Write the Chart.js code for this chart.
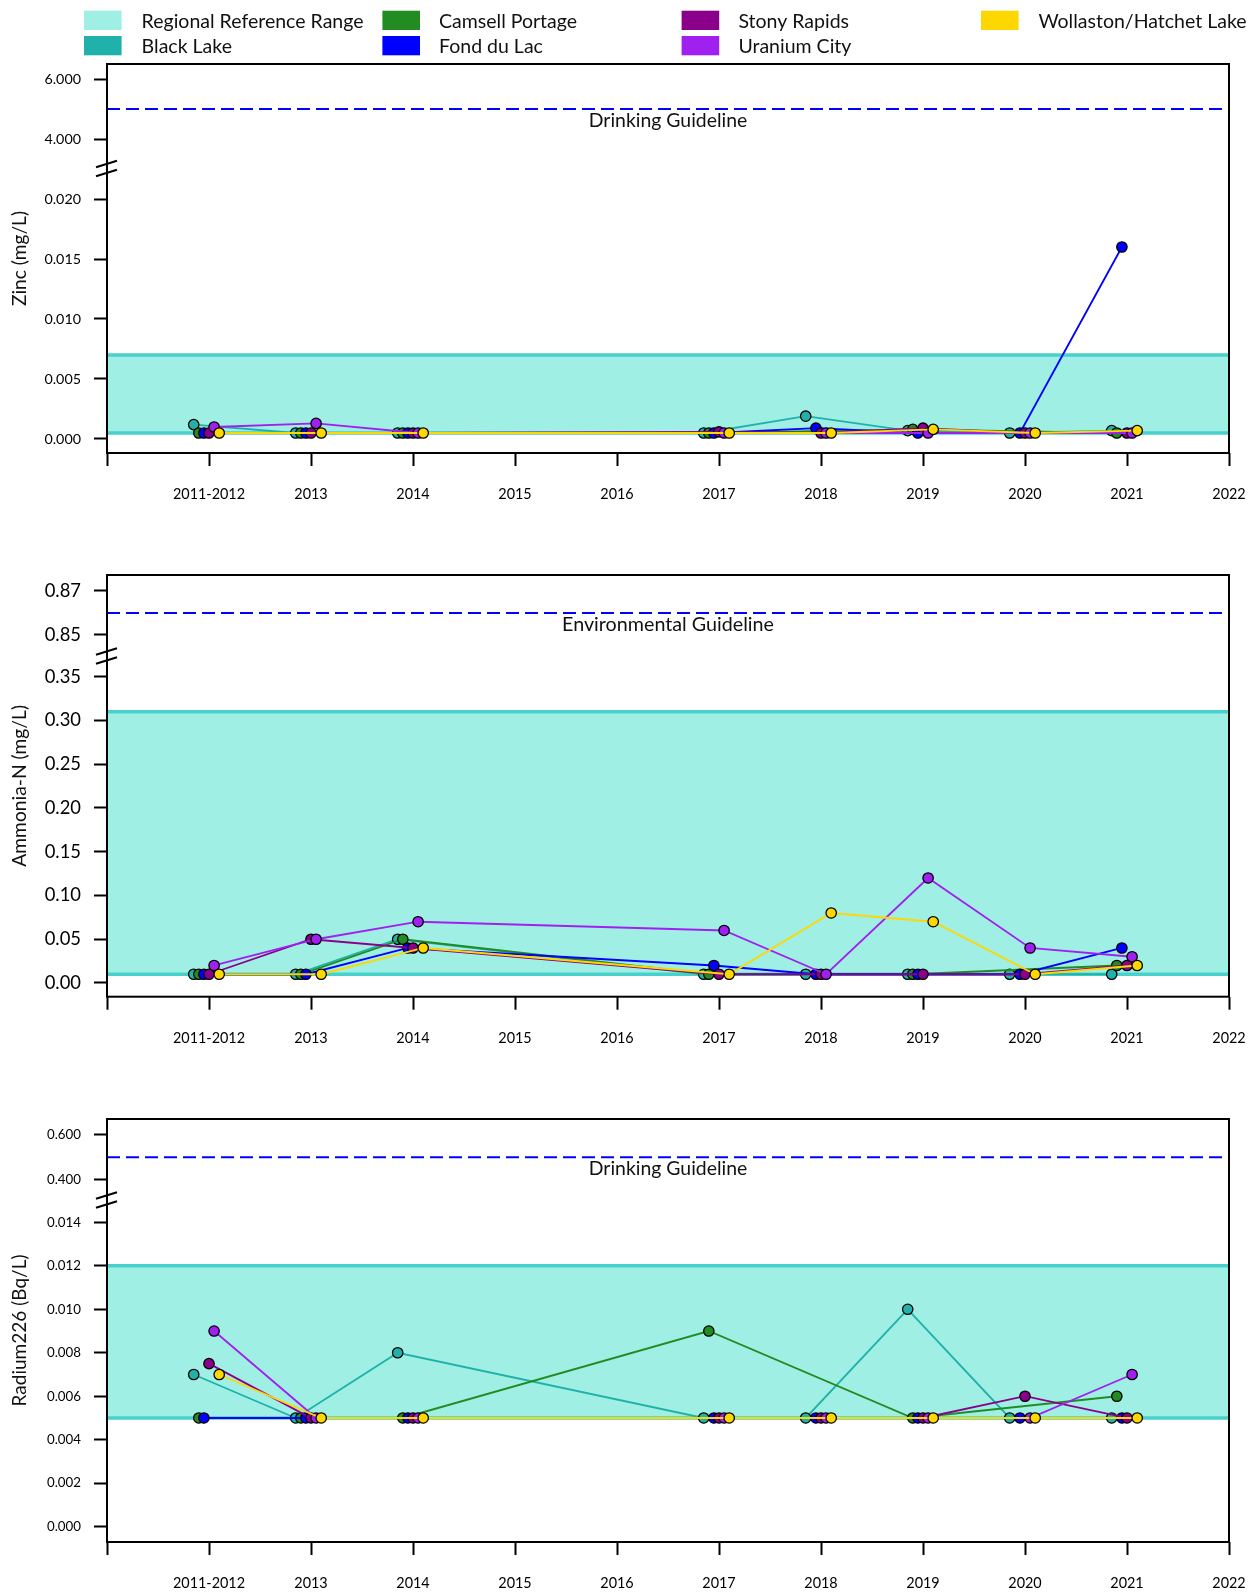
<!DOCTYPE html>
<html>
<head>
<meta charset="utf-8">
<script src="https://cdn.jsdelivr.net/npm/chart.js@4.4.1/dist/chart.umd.min.js"></script>
<style>
  html, body { margin: 0; padding: 0; background: #ffffff; }
  #wrap { position: relative; width: 1254px; height: 1594px; overflow: hidden; }
  canvas { position: absolute; left: 0; }
</style>
</head>
<body>
<div id="wrap">
  <canvas id="c1" width="1254" height="540" style="top:0px"></canvas>
  <canvas id="c2" width="1254" height="530" style="top:540px"></canvas>
  <canvas id="c3" width="1254" height="524" style="top:1070px"></canvas>
</div>
<script>
// ---------------- DATA ----------------
const xTickLabels = ['', '2011-2012', '2013', '2014', '2015', '2016', '2017', '2018', '2019', '2020', '2021', '2022'];
const sampleYears = ['2011-2012', '2013', '2014', '2017', '2018', '2019', '2020', '2021'];
const siteNames = ['Black Lake', 'Camsell Portage', 'Fond du Lac', 'Stony Rapids', 'Uranium City', 'Wollaston/Hatchet Lake'];
const siteColors = ['#20B2AA', '#228B22', '#0000FF', '#8B008B', '#A020F0', '#FFD700'];
const referenceLabel = 'Regional Reference Range';
const referenceFill = '#A0EFE5';
const referenceLine = '#48D1CC';

// Zinc (mg/L)
const zincBlackLake = [0.0012, 0.0005, 0.0005, 0.0005, 0.0019, 0.0007, 0.0005, 0.0007];
const zincCamsell   = [0.0005, 0.0005, 0.0005, 0.0005, null,   0.0008, null,   0.0005];
const zincFondDuLac = [0.0005, 0.0005, 0.0005, 0.0005, 0.0009, 0.0005, 0.0005, 0.0160];
const zincStony     = [0.0005, 0.0005, 0.0005, 0.0006, 0.0005, 0.0009, 0.0005, 0.0005];
const zincUranium   = [0.0010, 0.0013, 0.0005, 0.0005, 0.0005, 0.0005, 0.0005, 0.0005];
const zincWollaston = [0.0005, 0.0005, 0.0005, 0.0005, 0.0005, 0.0008, 0.0005, 0.0007];
const zincReference = [0.0005, 0.007];
const zincGuideline = 5.0;
const zincLowerTicks = [0, 0.005, 0.010, 0.015, 0.020];
const zincUpperTicks = [4, 6];

// Ammonia-N (mg/L)
const ammoniaBlackLake = [0.01, 0.01, 0.05, 0.01, 0.01, 0.01, 0.01, 0.01];
const ammoniaCamsell   = [0.01, 0.01, 0.05, 0.01, null, 0.01, null, 0.02];
const ammoniaFondDuLac = [0.01, 0.01, 0.04, 0.02, 0.01, 0.01, 0.01, 0.04];
const ammoniaStony     = [0.01, 0.05, 0.04, 0.01, 0.01, 0.01, 0.01, 0.02];
const ammoniaUranium   = [0.02, 0.05, 0.07, 0.06, 0.01, 0.12, 0.04, 0.03];
const ammoniaWollaston = [0.01, 0.01, 0.04, 0.01, 0.08, 0.07, 0.01, 0.02];
const ammoniaReference = [0.01, 0.31];
const ammoniaGuideline = 0.86;
const ammoniaLowerTicks = [0, 0.05, 0.10, 0.15, 0.20, 0.25, 0.30, 0.35];
const ammoniaUpperTicks = [0.85, 0.87];

// Radium226 (Bq/L)
const radiumBlackLake = [0.007,  0.005, 0.008, 0.005, 0.005, 0.010, 0.005, 0.005];
const radiumCamsell   = [0.005,  0.005, 0.005, 0.009, null,  0.005, null,  0.006];
const radiumFondDuLac = [0.005,  0.005, 0.005, 0.005, 0.005, 0.005, 0.005, 0.005];
const radiumStony     = [0.0075, 0.005, 0.005, 0.005, 0.005, 0.005, 0.006, 0.005];
const radiumUranium   = [0.009,  0.005, 0.005, 0.005, 0.005, 0.005, 0.005, 0.007];
const radiumWollaston = [0.007,  0.005, 0.005, 0.005, 0.005, 0.005, 0.005, 0.005];
const radiumReference = [0.005, 0.012];
const radiumGuideline = 0.5;
const radiumLowerTicks = [0, 0.002, 0.004, 0.006, 0.008, 0.010, 0.012, 0.014];
const radiumUpperTicks = [0.4, 0.6];

// ---------------- STYLE / LAYOUT ----------------
const FONT = 'Lato';
const siteOffsets = [-0.15, -0.10, -0.05, 0, 0.05, 0.10]; // dodge of sites around each year
Chart.defaults.font.family = FONT;
Chart.defaults.color = '#000';

function fitFont(text, targetWidth) {
  const c = document.createElement('canvas').getContext('2d');
  c.font = '100px ' + FONT;
  return 100 * targetWidth / c.measureText(text).width;
}

function buildSeries(values, i) {
  return values.map((v, k) => ({ x: xTickLabels.indexOf(sampleYears[k]) + siteOffsets[i], y: v }));
}

function drawLegend(ctx) {
  const cols = [[84, 141.6], [382.4, 439], [681.6, 738.4], [981, 1038.4]];
  const swTop = [10.7, 36], baseLines = [28.3, 53.3];
  const items = [{ label: referenceLabel, color: referenceFill }].concat(
    siteNames.map((n, i) => ({ label: n, color: siteColors[i] })));
  const size = fitFont(referenceLabel, 222);
  ctx.save();
  ctx.font = size + 'px ' + FONT;
  ctx.fillStyle = '#000';
  ctx.textBaseline = 'alphabetic';
  ctx.textAlign = 'left';
  items.forEach((it, k) => {
    const col = Math.floor(k / 2), row = k % 2;
    ctx.fillStyle = it.color;
    ctx.fillRect(cols[col][0], swTop[row], 37.6, 19.3);
    ctx.fillStyle = '#111';
    ctx.fillText(it.label, cols[col][1], baseLines[row]);
  });
  ctx.restore();
}

function makePanel(p) {
  const datasets = [];
  p.series.forEach((vals, i) => datasets.push({
    label: siteNames[i],
    data: buildSeries(vals, i),
    xAxisID: 'x', yAxisID: 'y',
    borderColor: siteColors[i], backgroundColor: siteColors[i],
    pointBackgroundColor: siteColors[i], pointBorderColor: '#000',
    pointBorderWidth: 1.3, pointRadius: 5.2, borderWidth: 1.8,
    tension: 0, spanGaps: true, fill: false, order: 10 - i
  }));
  datasets.push({
    label: referenceLabel + ' (low)',
    data: [{ x: 0, y: p.reference[0] }, { x: 11, y: p.reference[0] }],
    xAxisID: 'x', yAxisID: 'y', borderColor: referenceLine, borderWidth: 3.5,
    pointRadius: 0, fill: false, order: 100
  });
  datasets.push({
    label: referenceLabel,
    data: [{ x: 0, y: p.reference[1] }, { x: 11, y: p.reference[1] }],
    xAxisID: 'x', yAxisID: 'y', borderColor: referenceLine, borderWidth: 3.5,
    backgroundColor: referenceFill, pointRadius: 0, fill: '-1', order: 99
  });
  datasets.push({
    label: p.guideLabel,
    data: [{ x: 0, y: p.guideline }, { x: 11, y: p.guideline }],
    xAxisID: 'x', yAxisID: 'yTop', borderColor: '#0000FF', borderWidth: 2,
    borderDash: [13, 6], pointRadius: 0, fill: false, order: 98
  });

  const tickGrid = { display: true, drawOnChartArea: false, drawTicks: true, tickLength: 13, tickWidth: 2, tickColor: '#000' };
  const yFont = { family: FONT, size: p.tickFont };
  const wTop = p.breakY - p.boxTop, wLow = p.boxBottom - p.breakY;

  const decor = {
    id: 'decor' + p.id,
    afterDraw(chart) {
      const ctx = chart.ctx, a = chart.chartArea;
      ctx.save();
      // frame
      ctx.strokeStyle = '#000';
      ctx.lineWidth = 2;
      ctx.strokeRect(a.left, a.top, a.right - a.left, a.bottom - a.top);
      // axis break marks
      const by = chart.scales.y.top;
      ctx.lineWidth = 2;
      [-4.5, 4.5].forEach(d => {
        ctx.beginPath();
        ctx.moveTo(a.left - 11, by + d + 3.3);
        ctx.lineTo(a.left + 10, by + d - 3.3);
        ctx.stroke();
      });
      // guideline label
      const gy = chart.scales.yTop.getPixelForValue(p.guideline) + 11.5;
      ctx.fillStyle = '#111';
      ctx.font = fitFont(p.guideLabel, p.guideWidth) + 'px ' + FONT;
      ctx.textAlign = 'center';
      ctx.textBaseline = 'middle';
      ctx.fillText(p.guideLabel, (a.left + a.right) / 2, gy);
      // y axis title
      ctx.save();
      ctx.translate(20, (a.top + a.bottom) / 2);
      ctx.rotate(-Math.PI / 2);
      ctx.font = fitFont(p.title, p.titleWidth) + 'px ' + FONT;
      ctx.fillText(p.title, 0, 0);
      ctx.restore();
      if (p.legend) drawLegend(ctx);
      ctx.restore();
    }
  };

  return new Chart(document.getElementById(p.id), {
    type: 'line',
    data: { datasets },
    plugins: [decor],
    options: {
      responsive: false, animation: false, devicePixelRatio: 1, events: [],
      layout: { padding: { top: p.boxTop, right: 25, bottom: 0, left: 0 } },
      plugins: { legend: { display: false }, tooltip: { enabled: false }, filler: { drawTime: 'beforeDatasetsDraw' } },
      scales: {
        x: {
          type: 'linear', min: 0, max: 11, bounds: 'data',
          afterBuildTicks: s => { s.ticks = xTickLabels.map((_, i) => ({ value: i })); },
          afterFit: s => { s.height = p.canvasH - p.boxBottom; s.paddingLeft = 0; s.paddingRight = 0; },
          ticks: { autoSkip: false, maxRotation: 0, padding: 20, font: { family: FONT, size: 14.4 }, color: '#000',
                   callback: v => xTickLabels[v] },
          grid: tickGrid, border: { display: false }
        },
        yTop: {
          type: 'linear', position: 'left', stack: 'v', stackWeight: wTop, weight: 1,
          min: p.upper[0], max: p.upper[1], bounds: 'data',
          afterBuildTicks: s => { s.ticks = p.upperTicks.map(v => ({ value: v })); },
          afterFit: s => { s.width = 107; s.paddingTop = 0; s.paddingBottom = 0; },
          ticks: { autoSkip: false, padding: 13, font: yFont, color: '#000', callback: v => v.toFixed(p.dec) },
          grid: tickGrid, border: { display: false }
        },
        y: {
          type: 'linear', position: 'left', stack: 'v', stackWeight: wLow, weight: 0,
          min: p.lower[0], max: p.lower[1], bounds: 'data',
          afterBuildTicks: s => { s.ticks = p.lowerTicks.map(v => ({ value: v })); },
          afterFit: s => { s.width = 107; s.paddingTop = 0; s.paddingBottom = 0; },
          ticks: { autoSkip: false, padding: 13, font: yFont, color: '#000', callback: v => v.toFixed(p.dec) },
          grid: tickGrid, border: { display: false }
        }
      }
    }
  });
}

makePanel({
  id: 'c1', canvasH: 540, boxTop: 64, boxBottom: 453, breakY: 168.5,
  lower: [-0.001167, 0.022542], upper: [3.017, 6.5],
  lowerTicks: zincLowerTicks, upperTicks: zincUpperTicks, dec: 3, tickFont: 14.3,
  series: [zincBlackLake, zincCamsell, zincFondDuLac, zincStony, zincUranium, zincWollaston],
  reference: zincReference, guideline: zincGuideline,
  guideLabel: 'Drinking Guideline', guideWidth: 158.5,
  title: 'Zinc (mg/L)', titleWidth: 95, legend: true
});
makePanel({
  id: 'c2', canvasH: 530, boxTop: 35, boxBottom: 456.7, breakY: 116,
  lower: [-0.01566, 0.37365], upper: [0.84045, 0.87727],
  lowerTicks: ammoniaLowerTicks, upperTicks: ammoniaUpperTicks, dec: 2, tickFont: 18.4,
  series: [ammoniaBlackLake, ammoniaCamsell, ammoniaFondDuLac, ammoniaStony, ammoniaUranium, ammoniaWollaston],
  reference: ammoniaReference, guideline: ammoniaGuideline,
  guideLabel: 'Environmental Guideline', guideWidth: 212,
  title: 'Ammonia-N (mg/L)', titleWidth: 162, legend: false
});
makePanel({
  id: 'c3', canvasH: 524, boxTop: 49, boxBottom: 472, breakY: 130,
  lower: [-0.000704, 0.015026], upper: [0.3065, 0.6722],
  lowerTicks: radiumLowerTicks, upperTicks: radiumUpperTicks, dec: 3, tickFont: 13.3,
  series: [radiumBlackLake, radiumCamsell, radiumFondDuLac, radiumStony, radiumUranium, radiumWollaston],
  reference: radiumReference, guideline: radiumGuideline,
  guideLabel: 'Drinking Guideline', guideWidth: 158.5,
  title: 'Radium226 (Bq/L)', titleWidth: 152, legend: false
});
</script>
</body>
</html>
